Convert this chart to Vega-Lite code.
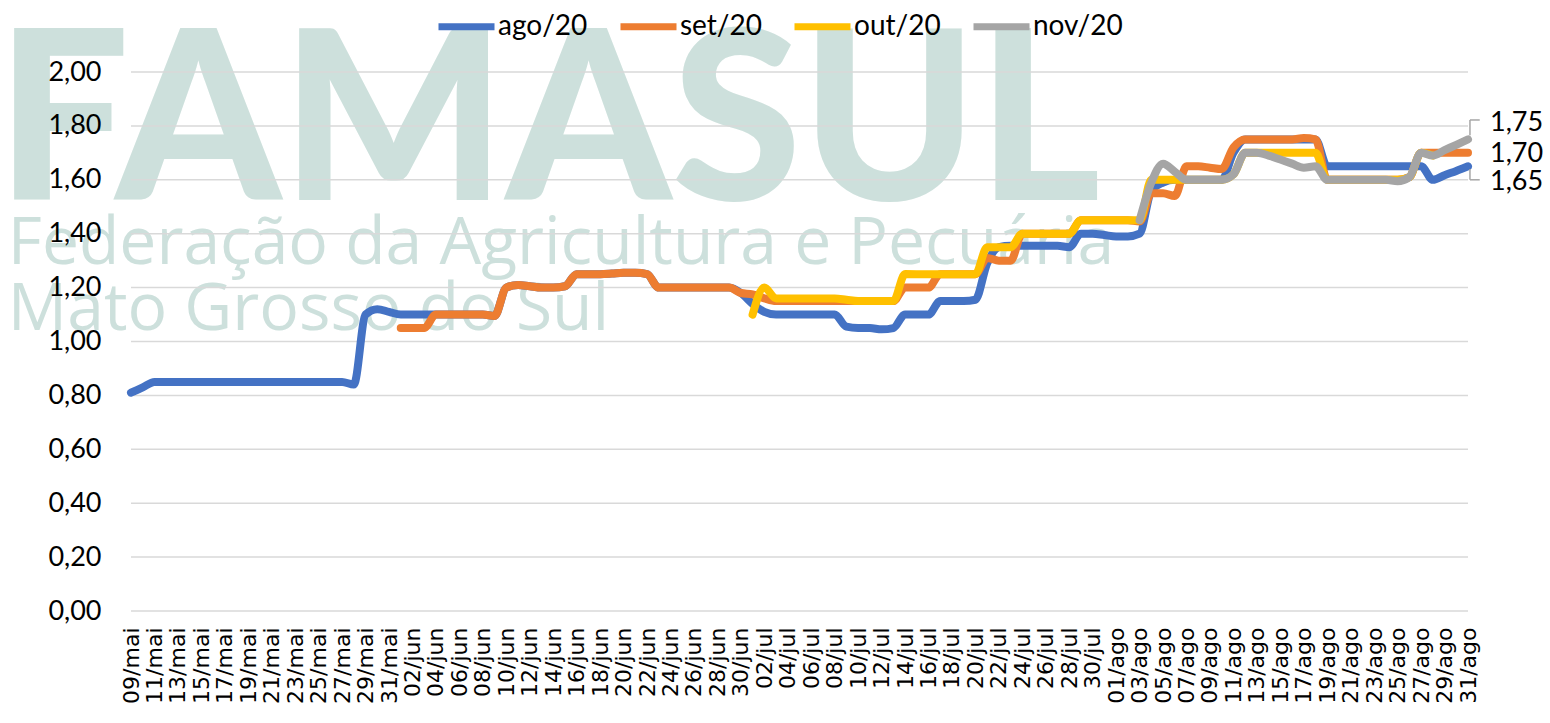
{
  "$schema": "https://vega.github.io/schema/vega-lite/v6.json",
  "width": 1337,
  "height": 539,
  "autosize": {"type": "none"},
  "padding": {"left": 131, "top": 72, "right": 82, "bottom": 112},
  "background": "white",
  "config": {
    "view": {"stroke": null},
    "locale": {
      "number": {"decimal": ",", "thousands": ".", "grouping": [3], "currency": ["R$", ""]},
      "time": {
        "dateTime": "%A, %e de %B de %Y. %X",
        "date": "%d/%m/%Y",
        "time": "%H:%M:%S",
        "periods": ["AM", "PM"],
        "days": ["Domingo", "Segunda", "Terça", "Quarta", "Quinta", "Sexta", "Sábado"],
        "shortDays": ["Dom", "Seg", "Ter", "Qua", "Qui", "Sex", "Sáb"],
        "months": ["Janeiro", "Fevereiro", "Março", "Abril", "Maio", "Junho", "Julho", "Agosto", "Setembro", "Outubro", "Novembro", "Dezembro"],
        "shortMonths": ["jan", "fev", "mar", "abr", "mai", "jun", "jul", "ago", "set", "out", "nov", "dez"]
      }
    }
  },
  "datasets": {
    "prices": [
      {"d": "2020-05-09", "ago": 0.81},
      {"d": "2020-05-10", "ago": 0.83},
      {"d": "2020-05-11", "ago": 0.85},
      {"d": "2020-05-12", "ago": 0.85},
      {"d": "2020-05-13", "ago": 0.85},
      {"d": "2020-05-14", "ago": 0.85},
      {"d": "2020-05-15", "ago": 0.85},
      {"d": "2020-05-16", "ago": 0.85},
      {"d": "2020-05-17", "ago": 0.85},
      {"d": "2020-05-18", "ago": 0.85},
      {"d": "2020-05-19", "ago": 0.85},
      {"d": "2020-05-20", "ago": 0.85},
      {"d": "2020-05-21", "ago": 0.85},
      {"d": "2020-05-22", "ago": 0.85},
      {"d": "2020-05-23", "ago": 0.85},
      {"d": "2020-05-24", "ago": 0.85},
      {"d": "2020-05-25", "ago": 0.85},
      {"d": "2020-05-26", "ago": 0.85},
      {"d": "2020-05-27", "ago": 0.85},
      {"d": "2020-05-28", "ago": 0.84},
      {"d": "2020-05-29", "ago": 1.10},
      {"d": "2020-05-30", "ago": 1.12},
      {"d": "2020-05-31", "ago": 1.11},
      {"d": "2020-06-01", "ago": 1.10, "set": 1.05},
      {"d": "2020-06-02", "ago": 1.10, "set": 1.05},
      {"d": "2020-06-03", "ago": 1.10, "set": 1.05},
      {"d": "2020-06-04", "ago": 1.10, "set": 1.10},
      {"d": "2020-06-05", "ago": 1.10, "set": 1.10},
      {"d": "2020-06-06", "ago": 1.10, "set": 1.10},
      {"d": "2020-06-07", "ago": 1.10, "set": 1.10},
      {"d": "2020-06-08", "ago": 1.10, "set": 1.10},
      {"d": "2020-06-09", "ago": 1.095, "set": 1.095},
      {"d": "2020-06-10", "ago": 1.20, "set": 1.20},
      {"d": "2020-06-11", "ago": 1.21, "set": 1.21},
      {"d": "2020-06-12", "ago": 1.205, "set": 1.205},
      {"d": "2020-06-13", "ago": 1.20, "set": 1.20},
      {"d": "2020-06-14", "ago": 1.20, "set": 1.20},
      {"d": "2020-06-15", "ago": 1.205, "set": 1.205},
      {"d": "2020-06-16", "ago": 1.25, "set": 1.25},
      {"d": "2020-06-17", "ago": 1.25, "set": 1.25},
      {"d": "2020-06-18", "ago": 1.25, "set": 1.25},
      {"d": "2020-06-19", "ago": 1.252, "set": 1.252},
      {"d": "2020-06-20", "ago": 1.255, "set": 1.255},
      {"d": "2020-06-21", "ago": 1.255, "set": 1.255},
      {"d": "2020-06-22", "ago": 1.25, "set": 1.25},
      {"d": "2020-06-23", "ago": 1.20, "set": 1.20},
      {"d": "2020-06-24", "ago": 1.20, "set": 1.20},
      {"d": "2020-06-25", "ago": 1.20, "set": 1.20},
      {"d": "2020-06-26", "ago": 1.20, "set": 1.20},
      {"d": "2020-06-27", "ago": 1.20, "set": 1.20},
      {"d": "2020-06-28", "ago": 1.20, "set": 1.20},
      {"d": "2020-06-29", "ago": 1.20, "set": 1.20},
      {"d": "2020-06-30", "ago": 1.18, "set": 1.18},
      {"d": "2020-07-01", "ago": 1.14, "set": 1.175, "out": 1.10},
      {"d": "2020-07-02", "ago": 1.11, "set": 1.16, "out": 1.20},
      {"d": "2020-07-03", "ago": 1.10, "set": 1.15, "out": 1.16},
      {"d": "2020-07-04", "ago": 1.10, "set": 1.15, "out": 1.16},
      {"d": "2020-07-05", "ago": 1.10, "set": 1.15, "out": 1.16},
      {"d": "2020-07-06", "ago": 1.10, "set": 1.15, "out": 1.16},
      {"d": "2020-07-07", "ago": 1.10, "set": 1.15, "out": 1.16},
      {"d": "2020-07-08", "ago": 1.10, "set": 1.15, "out": 1.16},
      {"d": "2020-07-09", "ago": 1.055, "set": 1.15, "out": 1.155},
      {"d": "2020-07-10", "ago": 1.05, "set": 1.15, "out": 1.15},
      {"d": "2020-07-11", "ago": 1.05, "set": 1.15, "out": 1.15},
      {"d": "2020-07-12", "ago": 1.045, "set": 1.15, "out": 1.15},
      {"d": "2020-07-13", "ago": 1.05, "set": 1.15, "out": 1.15},
      {"d": "2020-07-14", "ago": 1.10, "set": 1.20, "out": 1.25},
      {"d": "2020-07-15", "ago": 1.10, "set": 1.20, "out": 1.25},
      {"d": "2020-07-16", "ago": 1.10, "set": 1.20, "out": 1.25},
      {"d": "2020-07-17", "ago": 1.15, "set": 1.25, "out": 1.25},
      {"d": "2020-07-18", "ago": 1.15, "set": 1.25, "out": 1.25},
      {"d": "2020-07-19", "ago": 1.15, "set": 1.25, "out": 1.25},
      {"d": "2020-07-20", "ago": 1.155, "set": 1.25, "out": 1.25},
      {"d": "2020-07-21", "ago": 1.29, "set": 1.31, "out": 1.35},
      {"d": "2020-07-22", "ago": 1.35, "set": 1.30, "out": 1.35},
      {"d": "2020-07-23", "ago": 1.355, "set": 1.30, "out": 1.35},
      {"d": "2020-07-24", "ago": 1.355, "set": 1.40, "out": 1.40},
      {"d": "2020-07-25", "ago": 1.355, "set": 1.40, "out": 1.40},
      {"d": "2020-07-26", "ago": 1.355, "set": 1.40, "out": 1.40},
      {"d": "2020-07-27", "ago": 1.355, "set": 1.40, "out": 1.40},
      {"d": "2020-07-28", "ago": 1.35, "set": 1.40, "out": 1.40},
      {"d": "2020-07-29", "ago": 1.40, "set": 1.45, "out": 1.45},
      {"d": "2020-07-30", "ago": 1.40, "set": 1.45, "out": 1.45},
      {"d": "2020-07-31", "ago": 1.395, "set": 1.45, "out": 1.45},
      {"d": "2020-08-01", "ago": 1.39, "set": 1.45, "out": 1.45},
      {"d": "2020-08-02", "ago": 1.39, "set": 1.45, "out": 1.45},
      {"d": "2020-08-03", "ago": 1.40, "set": 1.445, "out": 1.45, "nov": 1.45},
      {"d": "2020-08-04", "ago": 1.56, "set": 1.55, "out": 1.60, "nov": 1.59},
      {"d": "2020-08-05", "ago": 1.59, "set": 1.55, "out": 1.60, "nov": 1.66},
      {"d": "2020-08-06", "ago": 1.60, "set": 1.54, "out": 1.60, "nov": 1.63},
      {"d": "2020-08-07", "ago": 1.60, "set": 1.65, "out": 1.60, "nov": 1.60},
      {"d": "2020-08-08", "ago": 1.60, "set": 1.65, "out": 1.60, "nov": 1.60},
      {"d": "2020-08-09", "ago": 1.60, "set": 1.645, "out": 1.60, "nov": 1.60},
      {"d": "2020-08-10", "ago": 1.60, "set": 1.64, "out": 1.60, "nov": 1.60},
      {"d": "2020-08-11", "ago": 1.70, "set": 1.72, "out": 1.62, "nov": 1.62},
      {"d": "2020-08-12", "ago": 1.75, "set": 1.75, "out": 1.70, "nov": 1.70},
      {"d": "2020-08-13", "ago": 1.75, "set": 1.75, "out": 1.70, "nov": 1.70},
      {"d": "2020-08-14", "ago": 1.75, "set": 1.75, "out": 1.70, "nov": 1.69},
      {"d": "2020-08-15", "ago": 1.75, "set": 1.75, "out": 1.70, "nov": 1.675},
      {"d": "2020-08-16", "ago": 1.75, "set": 1.75, "out": 1.70, "nov": 1.66},
      {"d": "2020-08-17", "ago": 1.75, "set": 1.755, "out": 1.70, "nov": 1.645},
      {"d": "2020-08-18", "ago": 1.75, "set": 1.75, "out": 1.70, "nov": 1.65},
      {"d": "2020-08-19", "ago": 1.65, "set": 1.60, "out": 1.60, "nov": 1.60},
      {"d": "2020-08-20", "ago": 1.65, "set": 1.60, "out": 1.60, "nov": 1.60},
      {"d": "2020-08-21", "ago": 1.65, "set": 1.60, "out": 1.60, "nov": 1.60},
      {"d": "2020-08-22", "ago": 1.65, "set": 1.60, "out": 1.60, "nov": 1.60},
      {"d": "2020-08-23", "ago": 1.65, "set": 1.60, "out": 1.60, "nov": 1.60},
      {"d": "2020-08-24", "ago": 1.65, "set": 1.60, "out": 1.60, "nov": 1.60},
      {"d": "2020-08-25", "ago": 1.65, "set": 1.60, "out": 1.60, "nov": 1.595},
      {"d": "2020-08-26", "ago": 1.65, "set": 1.61, "out": 1.61, "nov": 1.61},
      {"d": "2020-08-27", "ago": 1.65, "set": 1.70, "out": 1.70, "nov": 1.70},
      {"d": "2020-08-28", "ago": 1.60, "set": 1.70, "out": 1.69, "nov": 1.69},
      {"d": "2020-08-29", "ago": 1.617, "set": 1.70, "nov": 1.71},
      {"d": "2020-08-30", "ago": 1.633, "set": 1.70, "nov": 1.73},
      {"d": "2020-08-31", "ago": 1.65, "set": 1.70, "nov": 1.75}
    ],
    "ends": [
      {"s": "nov", "d": "2020-08-31", "v": 1.75},
      {"s": "set", "d": "2020-08-31", "v": 1.70},
      {"s": "ago", "d": "2020-08-31", "v": 1.65}
    ],
    "grid": [
      {"g": 0}, {"g": 0.2}, {"g": 0.4}, {"g": 0.6}, {"g": 0.8}, {"g": 1.0},
      {"g": 1.2}, {"g": 1.4}, {"g": 1.6}, {"g": 1.8}, {"g": 2.0}
    ]
  },
  "layer": [
    {
      "data": {"values": [{"t": "FAMASUL"}]},
      "mark": {"type": "text", "font": "Lato", "fontWeight": 900, "fontSize": 236, "color": "#cde0dc", "align": "left", "baseline": "alphabetic"},
      "encoding": {
        "x": {"datum": {"year": 2020, "month": 4, "date": 27, "hours": 12, "utc": true}, "type": "temporal"},
        "y": {"datum": 1.526, "type": "quantitative"},
        "text": {"field": "t", "type": "nominal"}
      }
    },
    {
      "data": {"values": [{"t": "Federação da Agricultura e Pecuária"}]},
      "mark": {"type": "text", "font": "Open Sans", "fontSize": 66, "color": "#cde0dc", "align": "left", "baseline": "alphabetic"},
      "encoding": {
        "x": {"datum": {"year": 2020, "month": 4, "date": 28, "hours": 12, "utc": true}, "type": "temporal"},
        "y": {"datum": 1.289, "type": "quantitative"},
        "text": {"field": "t", "type": "nominal"}
      }
    },
    {
      "data": {"values": [{"t": "Mato Grosso do Sul"}]},
      "mark": {"type": "text", "font": "Open Sans", "fontSize": 66, "color": "#cde0dc", "align": "left", "baseline": "alphabetic"},
      "encoding": {
        "x": {"datum": {"year": 2020, "month": 4, "date": 28, "hours": 12, "utc": true}, "type": "temporal"},
        "y": {"datum": 1.044, "type": "quantitative"},
        "text": {"field": "t", "type": "nominal"}
      }
    },
    {
      "data": {"name": "grid"},
      "mark": {"type": "rule", "color": "#d9d9d9", "strokeWidth": 1.5},
      "encoding": {
        "y": {"field": "g", "type": "quantitative"}
      }
    },
    {
      "data": {"name": "prices"},
      "transform": [
        {"fold": ["ago", "set", "out", "nov"], "as": ["s", "v"]},
        {"filter": "isValid(datum.v)"}
      ],
      "mark": {"type": "line", "interpolate": "monotone", "strokeWidth": 8, "strokeCap": "round", "strokeJoin": "round"},
      "encoding": {
        "x": {
          "field": "d",
          "type": "temporal",
          "scale": {"type": "utc", "domain": [{"year": 2020, "month": 5, "date": 9, "utc": true}, {"year": 2020, "month": 8, "date": 31, "utc": true}]},
          "axis": {
            "title": null,
            "format": "%d/%b",
            "tickCount": {"interval": "day", "step": 1},
            "labelExpr": "round((datum.value - 1588982400000) / 86400000) % 2 == 0 ? datum.label : ''",
            "labelAngle": -90,
            "labelFont": "DejaVu Sans",
            "labelFontSize": 22,
            "labelColor": "#000000",
            "labelPadding": 16,
            "labelOverlap": false,
            "labelFlush": false,
            "labelBound": false,
            "ticks": false,
            "domain": false,
            "grid": false,
            "zindex": 1
          }
        },
        "y": {
          "field": "v",
          "type": "quantitative",
          "scale": {"domain": [0, 2], "nice": false},
          "axis": {
            "title": null,
            "values": [0, 0.2, 0.4, 0.6, 0.8, 1, 1.2, 1.4, 1.6, 1.8, 2],
            "format": ".2f",
            "labelFont": "Lato",
            "labelFontSize": 27,
            "labelColor": "#000000",
            "labelPadding": 30,
            "ticks": false,
            "domain": false,
            "grid": false,
            "zindex": 1
          }
        },
        "color": {
          "field": "s",
          "type": "nominal",
          "scale": {"domain": ["ago", "set", "out", "nov"], "range": ["#4472c4", "#ed7d31", "#ffc000", "#a5a5a5"]},
          "legend": {
            "title": null,
            "orient": "none",
            "legendX": 304,
            "legendY": -77,
            "direction": "horizontal",
            "symbolType": "stroke",
            "symbolSize": 3136,
            "symbolStrokeWidth": 7,
            "labelFont": "Lato",
            "labelFontSize": 28,
            "labelColor": "#000000",
            "labelOffset": 0,
            "columnPadding": 18,
            "labelExpr": "datum.label + '/20'",
            "zindex": 1
          }
        }
      }
    },
    {
      "data": {"name": "ends"},
      "transform": [{"filter": "datum.s == 'nov'"}],
      "mark": {"type": "rule", "color": "#a6a6a6", "strokeWidth": 1.5},
      "encoding": {
        "x": {"datum": {"year": 2020, "month": 8, "date": 31, "hours": 4, "utc": true}, "type": "temporal"},
        "y": {"datum": 1.765, "type": "quantitative"},
        "y2": {"datum": 1.822}
      }
    },
    {
      "data": {"name": "ends"},
      "transform": [{"filter": "datum.s == 'nov'"}],
      "mark": {"type": "rule", "color": "#a6a6a6", "strokeWidth": 1.5},
      "encoding": {
        "x": {"datum": {"year": 2020, "month": 8, "date": 31, "hours": 4, "utc": true}, "type": "temporal"},
        "x2": {"datum": {"year": 2020, "month": 9, "date": 1, "utc": true}},
        "y": {"datum": 1.822, "type": "quantitative"}
      }
    },
    {
      "data": {"name": "ends"},
      "transform": [{"filter": "datum.s == 'ago'"}],
      "mark": {"type": "rule", "color": "#a6a6a6", "strokeWidth": 1.5},
      "encoding": {
        "x": {"datum": {"year": 2020, "month": 8, "date": 31, "hours": 4, "utc": true}, "type": "temporal"},
        "y": {"datum": 1.64, "type": "quantitative"},
        "y2": {"datum": 1.60}
      }
    },
    {
      "data": {"name": "ends"},
      "transform": [{"filter": "datum.s == 'ago'"}],
      "mark": {"type": "rule", "color": "#a6a6a6", "strokeWidth": 1.5},
      "encoding": {
        "x": {"datum": {"year": 2020, "month": 8, "date": 31, "hours": 4, "utc": true}, "type": "temporal"},
        "x2": {"datum": {"year": 2020, "month": 9, "date": 1, "utc": true}},
        "y": {"datum": 1.60, "type": "quantitative"}
      }
    },
    {
      "data": {"name": "ends"},
      "transform": [{"filter": "datum.s == 'nov'"}],
      "mark": {"type": "text", "font": "Lato", "fontSize": 27, "color": "#000000", "align": "left", "baseline": "middle", "dx": 22, "dy": -16},
      "encoding": {
        "x": {"field": "d", "type": "temporal"},
        "y": {"field": "v", "type": "quantitative"},
        "text": {"field": "v", "type": "quantitative", "format": ".2f"}
      }
    },
    {
      "data": {"name": "ends"},
      "transform": [{"filter": "datum.s == 'set'"}],
      "mark": {"type": "text", "font": "Lato", "fontSize": 27, "color": "#000000", "align": "left", "baseline": "middle", "dx": 22, "dy": 1},
      "encoding": {
        "x": {"field": "d", "type": "temporal"},
        "y": {"field": "v", "type": "quantitative"},
        "text": {"field": "v", "type": "quantitative", "format": ".2f"}
      }
    },
    {
      "data": {"name": "ends"},
      "transform": [{"filter": "datum.s == 'ago'"}],
      "mark": {"type": "text", "font": "Lato", "fontSize": 27, "color": "#000000", "align": "left", "baseline": "middle", "dx": 22, "dy": 16},
      "encoding": {
        "x": {"field": "d", "type": "temporal"},
        "y": {"field": "v", "type": "quantitative"},
        "text": {"field": "v", "type": "quantitative", "format": ".2f"}
      }
    }
  ]
}
